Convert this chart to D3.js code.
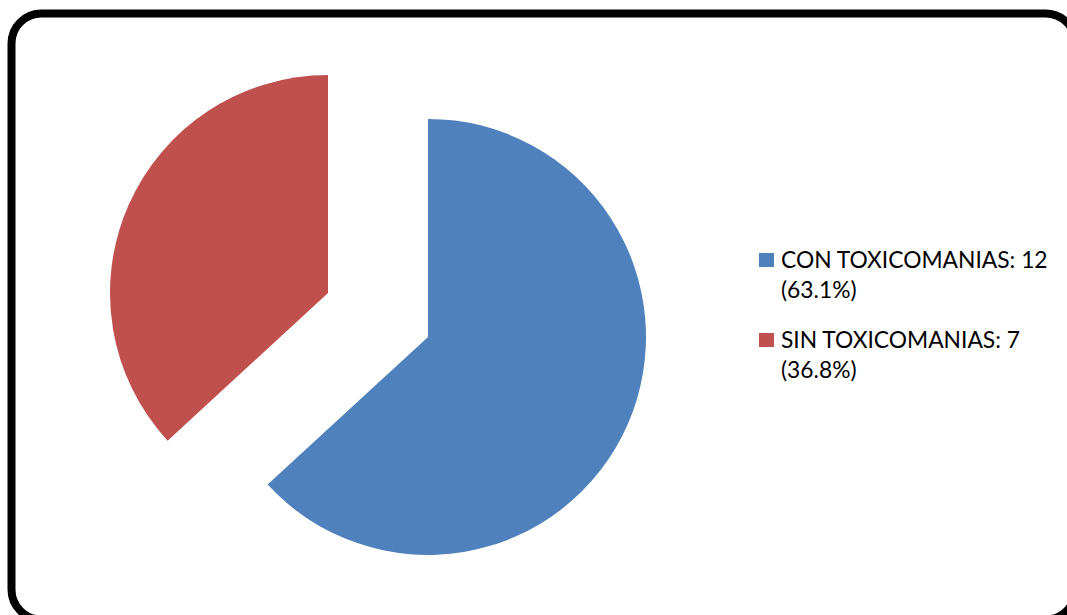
<!DOCTYPE html>
<html>
<head>
<meta charset="utf-8">
<script src="https://cdn.jsdelivr.net/npm/d3@7"></script>
<style>
  html, body { margin: 0; padding: 0; background: #fff; }
  svg { display: block; }
</style>
</head>
<body>
<svg id="chart" width="1067" height="615"></svg>
<script>
// Drug-use split among patients
const categories = ["CON TOXICOMANIAS", "SIN TOXICOMANIAS"];
const counts = [12, 7];
const percentLabels = ["(63.1%)", "(36.8%)"];
const colors = ["#4F81BD", "#C0504D"];

const svg = d3.select("#chart");

// Rounded chart frame
svg.append("rect")
  .attr("x", 11.5).attr("y", 13.5)
  .attr("width", 1064).attr("height", 606)
  .attr("rx", 30).attr("ry", 30)
  .attr("fill", "#fff")
  .attr("stroke", "#000")
  .attr("stroke-width", 8);

// Exploded pie
const cx = 378, cy = 315, radius = 218, explode = 54.6;
const pie = d3.pie().sort(null).value(d => d)(counts);
const arc = d3.arc().innerRadius(0).outerRadius(radius);

const g = svg.append("g").attr("transform", `translate(${cx},${cy})`);
g.selectAll("path.slice")
  .data(pie)
  .join("path")
  .attr("class", "slice")
  .attr("fill", (d, i) => colors[i])
  .attr("d", arc)
  .attr("transform", d => {
    const mid = (d.startAngle + d.endAngle) / 2;
    return `translate(${Math.sin(mid) * explode},${-Math.cos(mid) * explode})`;
  });

// Legend
const legend = svg.append("g").attr("transform", "translate(759,0)");
const entryTop = [253, 333];
categories.forEach((name, i) => {
  const y0 = entryTop[i];
  legend.append("rect")
    .attr("x", 0).attr("y", y0)
    .attr("width", 15).attr("height", 14)
    .attr("fill", colors[i]);
  const t = legend.append("text")
    .attr("font-family", "Lato, 'Open Sans', sans-serif")
    .attr("font-size", 22.8)
    .attr("fill", "#000");
  t.append("tspan").attr("x", 22).attr("y", y0 + 15).text(`${name}: ${counts[i]}`);
  t.append("tspan").attr("x", 22).attr("y", y0 + 45).text(percentLabels[i]);
});
</script>
</body>
</html>
